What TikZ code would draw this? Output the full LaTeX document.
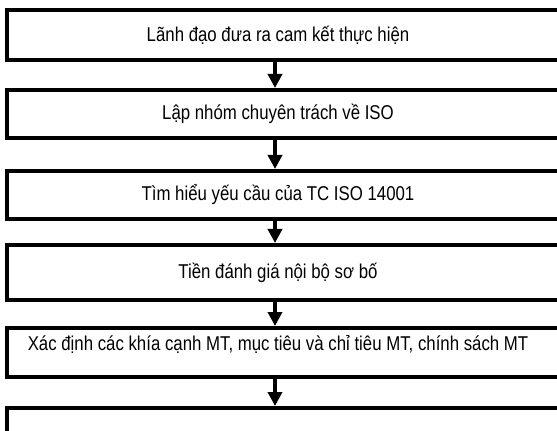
\documentclass[tikz,border=0pt]{standalone}
\usepackage{fontspec}
\setmainfont{Liberation Sans}[FakeStretch=0.84]
\usetikzlibrary{arrows.meta}
\begin{document}
\begin{tikzpicture}[x=0.75pt,y=-0.75pt,
  stepbox/.style={draw=black, line width=3pt, rectangle, inner sep=0pt,
    minimum width=450pt, anchor=north west},
  steptext/.style={inner sep=0pt, font=\fontsize{15}{17}\selectfont},
  flow/.style={line width=3pt, -{Triangle[width=10.5pt,length=10.5pt]}}]
\useasboundingbox (0,0) rectangle (557,431);
\clip (0,0) rectangle (557,431);
% process boxes (they run past the right margin)
\node[stepbox, minimum height=37.5pt]  (b1) at (5,8)   {};
\node[stepbox, minimum height=36pt]    (b2) at (5,88)  {};
\node[stepbox, minimum height=36pt]    (b3) at (5,169) {};
\node[stepbox, minimum height=41.25pt] (b4) at (5,243) {};
\node[stepbox, minimum height=36.75pt] (b5) at (5,326) {};
\node[stepbox, minimum height=60pt]    (b6) at (5,406) {};
% captions
\coordinate (mid) at (278,0);
\node[steptext] (t1) at (mid |- b1.center) {Lãnh đạo đưa ra cam kết thực hiện};
\node[steptext] (t2) at (mid |- b2.center) {Lập nhóm chuyên trách về ISO};
\node[steptext] (t3) at (mid |- b3.center) {Tìm hiểu yếu cầu của TC ISO 14001};
\node[steptext] (t4) at (mid |- b4.center) {Tiền đánh giá nội bộ sơ bố};
\node[steptext, yshift=-13.5pt] (t5) at (mid |- b5.north) {Xác định các khía cạnh MT, mục tiêu và chỉ tiêu MT, chính sách MT};
% connectors
\coordinate (ax) at (275,0);
\draw[flow] (ax |- b1.south) -- (ax |- b2.north);
\draw[flow] (ax |- b2.south) -- (ax |- b3.north);
\draw[flow] (ax |- b3.south) -- (ax |- b4.north);
\draw[flow] (ax |- b4.south) -- (ax |- b5.north);
\draw[flow] (ax |- b5.south) -- (ax |- b6.north);
\end{tikzpicture}
\end{document}
